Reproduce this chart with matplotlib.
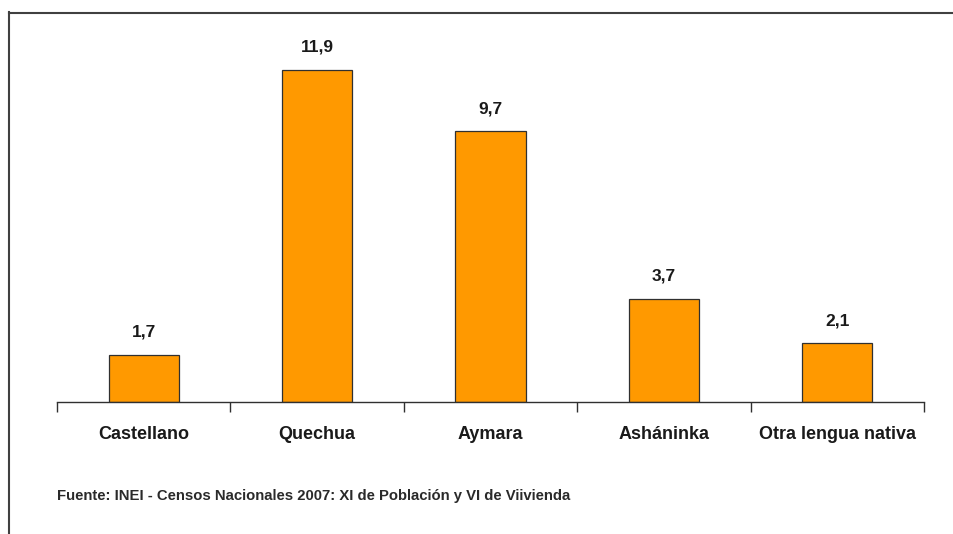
import numpy as np
import matplotlib.pyplot as plt
from matplotlib.lines import Line2D
from matplotlib import font_manager

categories = ['Castellano', 'Quechua', 'Aymara', 'Asháninka', 'Otra lengua nativa']
values = [1.7, 11.9, 9.7, 3.7, 2.1]
value_labels = ['1,7', '11,9', '9,7', '3,7', '2,1']
source = 'Fuente: INEI - Censos Nacionales 2007: XI de Población y VI de Viivienda'

names = {f.name for f in font_manager.fontManager.ttflist}
family = ['Liberation Sans Narrow'] if 'Liberation Sans Narrow' in names else ['Liberation Sans']
plt.rcParams['font.family'] = family + ['DejaVu Sans']

W, H = 954, 534
fig = plt.figure(figsize=(W / 100, H / 100), dpi=100)
fig.patch.set_facecolor('white')

# axes: x from 57 to 924 px, baseline at 402 px, 27.9 px per unit
left, right, bottom = 57, 924, 402
ymax = 13
top = bottom - 27.9 * ymax
ax = fig.add_axes([left / W, 1 - bottom / H, (right - left) / W, (bottom - top) / H])

x = np.arange(len(categories))
ax.bar(x, values, width=0.404, color='#FF9900', edgecolor='#303030', linewidth=0.9, zorder=2)
for xi, v, lab in zip(x, values, value_labels):
    ax.text(xi, v + 0.55, lab, ha='center', va='bottom', fontsize=12.5,
            fontweight='bold', color='#1a1a1a')

ax.set_xlim(-0.5, len(categories) - 0.5)
ax.set_ylim(0, ymax)
for s in ['top', 'right', 'left']:
    ax.spines[s].set_visible(False)
ax.spines['bottom'].set_color('#303030')
ax.spines['bottom'].set_linewidth(1.0)
ax.set_yticks([])
ax.set_xticks(x)
ax.set_xticklabels(categories, fontsize=13, fontweight='bold', color='#1a1a1a')
ax.tick_params(axis='x', which='major', length=0, pad=17)
ax.set_xticks(np.arange(-0.5, len(categories)), minor=True)
ax.tick_params(axis='x', which='minor', length=7, width=1.0, color='#303030', direction='out')

fig.text(left / W, 1 - 496 / H, source, ha='left', va='center', fontsize=10.7,
         fontweight='bold', color='#2a2a2a')

# frame lines (left and top)
fig.add_artist(Line2D([9.5 / W, 9.5 / W], [0, 1 - 12 / H], color='#404040', linewidth=1.5))
fig.add_artist(Line2D([9 / W, 1], [1 - 12.5 / H, 1 - 12.5 / H], color='#404040', linewidth=1.5))

fig.savefig('out.png', dpi=100)
